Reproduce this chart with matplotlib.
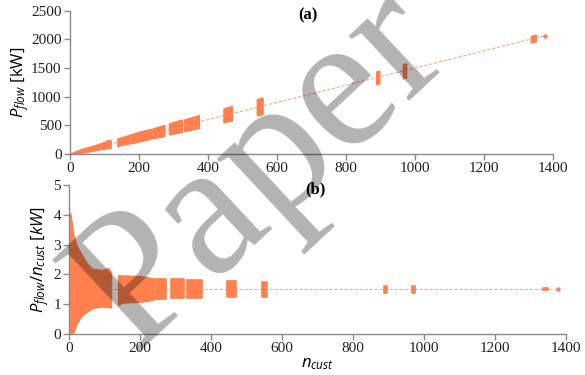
import matplotlib
matplotlib.use('Agg')
import matplotlib.pyplot as plt
import numpy as np

# envelope of the dense part (n_cust 0-118), ratio P_flow/n_cust in kW
dense_n = [1, 3, 12, 22, 36, 50, 64, 92, 111, 118]
dense_hi = [4.05, 4.06, 3.32, 2.93, 2.65, 2.37, 2.20, 2.15, 2.22, 2.04]
dense_lo = [0.0, 0.0, 0.05, 0.38, 0.62, 0.75, 0.86, 0.92, 0.90, 0.88]

# second wide block
wide_n = [137, 150, 200, 237]
wide_hi = [1.98, 1.97, 1.95, 1.87]
wide_lo = [0.97, 1.05, 1.08, 1.14]

# narrower groups: n range and ratio range
grp_n0 = [241, 287, 331, 361, 445, 542, 888, 965, 1336]
grp_n1 = [273, 324, 357, 373, 469, 558, 896, 974, 1350]
grp_lo = [1.16, 1.20, 1.22, 1.22, 1.25, 1.25, 1.37, 1.37, 1.46]
grp_hi = [1.85, 1.85, 1.81, 1.81, 1.78, 1.76, 1.62, 1.62, 1.54]

# last single point
last_n = [1378]
last_r = [1.5]

# fitted line
fit_n = [0, 1380]
fit_slope = 1.5

x_ticks = [0, 200, 400, 600, 800, 1000, 1200, 1400]
ya_ticks = [0, 500, 1000, 1500, 2000, 2500]
yb_ticks = [0, 1, 2, 3, 4, 5]

col = '#FF7F4D'
line_col = '#FFA58A'
gray = '#8a8a8a'

plt.rcParams['font.family'] = 'Liberation Serif'
plt.rcParams['mathtext.fontset'] = 'custom'
plt.rcParams['mathtext.it'] = 'Open Sans:italic'
plt.rcParams['mathtext.rm'] = 'Open Sans'

fig = plt.figure(figsize=(5.85, 3.75), dpi=100)
ax_a = fig.add_axes([70 / 585, 1 - 154 / 375, 483 / 585, 143.3 / 375])
ax_b = fig.add_axes([69.3 / 585, 1 - 334 / 375, 496.7 / 585, 149 / 375])


def draw(ax, as_power):
    def conv(n, r):
        n = np.asarray(n, float)
        r = np.asarray(r, float)
        return r * n if as_power else r

    ax.plot(fit_n, conv(fit_n, [fit_slope] * 2), color=line_col, lw=0.8,
            ls=(0, (3, 1.5)), zorder=1)
    ax.fill_between(dense_n, conv(dense_n, dense_lo), conv(dense_n, dense_hi),
                    color=col, lw=0.8, zorder=2)
    ax.fill_between(wide_n, conv(wide_n, wide_lo), conv(wide_n, wide_hi),
                    color=col, lw=0.8, zorder=2)
    for n0, n1, lo, hi in zip(grp_n0, grp_n1, grp_lo, grp_hi):
        xs = [n0, n1]
        ax.fill_between(xs, conv(xs, [lo, lo]), conv(xs, [hi, hi]),
                        color=col, lw=1.2, zorder=2)
    ax.scatter(last_n, conv(last_n, last_r), s=10, color=col, lw=0, zorder=3)

    ax.set_xlim(0, 1400)
    ax.set_xticks(x_ticks)
    for s in ['top', 'right']:
        ax.spines[s].set_visible(False)
    for s in ['left', 'bottom']:
        ax.spines[s].set_color(gray)
        ax.spines[s].set_linewidth(1.0)
    ax.tick_params(direction='out', length=4, color=gray, width=1.0,
                   labelsize=11, labelcolor='#222222', pad=2)


draw(ax_a, True)
ax_a.set_ylim(0, 2500)
ax_a.set_yticks(ya_ticks)
ax_a.set_ylabel(r'$P_{flow}$ [kW]', family='Open Sans', fontsize=12)
ax_a.yaxis.set_label_coords(-0.081, 0.5)
ax_a.text(0.493, 0.97, '(a)', transform=ax_a.transAxes, ha='center',
          va='center', weight='bold', fontsize=12)

draw(ax_b, False)
ax_b.set_ylim(0, 5)
ax_b.set_yticks(yb_ticks)
ax_b.set_ylabel(r'$P_{flow}/n_{cust}$ $[kW]$', family='Open Sans', fontsize=12)
ax_b.yaxis.set_label_coords(-0.036, 0.5)
ax_b.set_xlabel(r'$n_{cust}$', family='Open Sans', fontsize=12)
ax_b.xaxis.set_label_coords(0.4987, -0.145)
ax_b.text(0.495, 0.973, '(b)', transform=ax_b.transAxes, ha='center',
          va='center', weight='bold', fontsize=12)

# watermark
fig.text(261 / 585, 1 - 170 / 375, 'Paper', rotation=43, rotation_mode='anchor',
         ha='center', va='center', fontsize=138, family='Liberation Serif',
         color='black', alpha=0.3, zorder=10)

fig.savefig('out.png', dpi=100)
